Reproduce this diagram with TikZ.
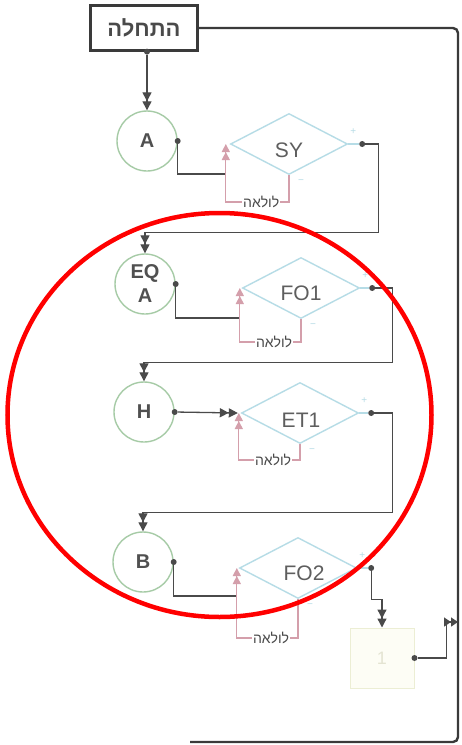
\documentclass[tikz,border=0pt]{standalone}
\usepackage{fontspec}
\setmainfont{Liberation Sans}
\newfontfamily\hebfont[Script=Hebrew]{Liberation Sans}
\TeXXeTstate=1
\usetikzlibrary{shapes.geometric,arrows.meta,calc}
\definecolor{ln}{HTML}{4A4A4A}
\definecolor{outerc}{HTML}{3A3A3A}
\definecolor{cgreen}{HTML}{A6CBA6}
\definecolor{cblue}{HTML}{B6DCE6}
\definecolor{cpink}{HTML}{D49FAB}
\definecolor{ctext}{HTML}{505050}
\definecolor{dtext}{HTML}{5E5E5E}
\definecolor{yel}{HTML}{ECEED4}
\definecolor{yelf}{HTML}{FDFDF5}
\definecolor{onec}{HTML}{E4E4D2}
\begin{document}
\begin{tikzpicture}[x=1pt,y=-1pt,
  conn/.style={draw=ln,line width=1.3pt},
  dbl/.style={-{Triangle[length=9pt,width=9pt]Triangle[length=9pt,width=9pt]}},
  pdbl/.style={-{Triangle[length=8pt,width=8pt]Triangle[length=8pt,width=8pt]}},
  circ/.style={circle,draw=cgreen,line width=1.4pt,minimum size=60pt,inner sep=0pt,
    font=\bfseries\fontsize{20}{24}\selectfont,text=ctext},
  dia/.style={diamond,draw=cblue,line width=1.4pt,minimum width=117pt,minimum height=61pt,inner sep=0pt},
  dtxt/.style={font=\fontsize{21}{21}\selectfont,text=dtext,inner sep=0pt},
  dot/.style={circle,fill=ln,inner sep=0pt,minimum size=6pt},
  pinkln/.style={draw=cpink,line width=1.1pt},
  loopl/.style={fill=white,inner sep=1pt,font=\hebfont\fontsize{14}{14}\selectfont,text=ln},
  pm/.style={text=cblue,font=\fontsize{10}{10}\selectfont,inner sep=0pt},
  outer/.style={draw=outerc,line width=2.4pt,rounded corners=5pt}
]
\useasboundingbox[fill=white] (0,0) rectangle (461,745);

% start box
\node[draw=outerc,line width=2.3pt,fill=white,minimum width=107pt,minimum height=45pt,inner sep=0pt,
  font=\hebfont\bfseries\fontsize{22}{22}\selectfont,text=ln] (start) at (144,28) {\beginR התחלה\endR};

% circles
\node[circ] (A) at (147,141) {A};
\node[circ,align=center] (EQA) at (145,284) {EQ\\A};
\node[circ] (H) at (144,412) {H};
\node[circ] (B) at (143,562) {B};

% diamonds
\node[dia] (SY) at (289,144) {};
\node[dia] (FO1) at (301,288) {};
\node[dia] (ET1) at (300,413) {};
\node[dia] (FO2) at (298,568) {};
\node[dtxt] (SYt) at ($(SY)+(0,6)$) {SY};
\node[dtxt] (FO1t) at ($(FO1)+(0,5)$) {FO1};
\node[dtxt] (ET1t) at ($(ET1)+(1,7)$) {ET1};
\node[dtxt] (FO2t) at ($(FO2)+(6,5)$) {FO2};

% plus / minus marks
\foreach \d in {SY,FO1,ET1,FO2}{
  \node[pm] (p\d) at ($(\d.east)+(5,-12)$) {+};
  \node[pm] (m\d) at ($(\d.south)+(12,6)$) {−};
}

% box 1
\node[draw=yel,line width=1pt,fill=yelf,minimum width=64pt,minimum height=60pt,inner sep=0pt,
  font=\fontsize{18}{18}\selectfont,text=onec] (box1) at (382,658) {1};

% dots
\node[dot] (dS) at (start.south -| A) {};
\node[dot] (dA) at (A.east) {};
\node[dot] (dEQA) at (EQA.east) {};
\node[dot] (dH) at (H.east) {};
\node[dot] (dB) at (B.east) {};
\node[dot] (dSY) at ($(SY.east)+(14,0)$) {};
\node[dot] (dFO1) at ($(FO1.east)+(12,0)$) {};
\node[dot] (dET1) at ($(ET1.east)+(12,0)$) {};
\node[dot] (dFO2) at ($(FO2.east)+(14,0)$) {};
\node[dot] (dbox) at (box1.east) {};

\foreach \d in {SY,FO1,ET1,FO2}{
  \draw[cblue,line width=1.2pt] (\d.east) -- (d\d);
}

% entry points of the diamonds
\coordinate (inSY) at ($(SY.west)+(-4,0)$);
\coordinate (inFO1) at ($(FO1.west)+(-2,0)$);
\coordinate (inET1) at ($(ET1.west)+(-2,0)$);
\coordinate (inFO2) at ($(FO2.west)+(-2,0)$);

% outer frame
\coordinate (tr) at (458,28);
\coordinate (br) at (458,742);
\coordinate (bl) at (190,742);
\draw[outer] (start.east) -- (tr) -- (br) -- (bl);

% start -> A
\draw[conn,dbl] (dS) -- (A.north);

% A -> SY
\draw[conn] (dA) |- ($(inSY)+(0,30)$);
\draw[pinkln,pdbl] (SY.south) |- node[loopl,pos=0.72] (lSY) {\beginR לולאה\endR} ($(inSY)+(0,58)$) -- (inSY);

% SY -> EQA
\draw[conn,dbl] (dSY) -- ++(16,0) |- ($(EQA.north)+(0,-21)$) -- (EQA.north);

% EQA -> FO1
\draw[conn] (dEQA) |- ($(inFO1)+(0,30)$);
\draw[pinkln,pdbl] (FO1.south) |- node[loopl,pos=0.72] (lFO1) {\beginR לולאה\endR} ($(inFO1)+(0,54)$) -- (inFO1);

% FO1 -> H
\draw[conn,dbl] (dFO1) -- ++(20,0) |- ($(H.north)+(0,-19)$) -- (H.north);

% H -> ET1
\draw[conn,dbl] (dH) -- ($(inET1)+(-1,0)$);
\draw[pinkln,pdbl] (ET1.south) |- node[loopl,pos=0.72] (lET1) {\beginR לולאה\endR} ($(inET1)+(0,47)$) -- (inET1);

% ET1 -> B
\draw[conn,dbl] (dET1) -- ++(21,0) |- ($(B.north)+(0,-19)$) -- (B.north);

% B -> FO2
\draw[conn] (dB) |- ($(inFO2)+(0,28)$);
\draw[pinkln,pdbl] (FO2.south) |- node[loopl,pos=0.72] (lFO2) {\beginR לולאה\endR} ($(inFO2)+(0,70)$) -- (inFO2);

% FO2 -> box1
\draw[conn,dbl] (dFO2) |- ($(box1.north)+(0,-28)$) -- (box1.north);

% box1 -> outer frame
\coordinate (jR) at (458,622);
\draw[conn,-{Triangle[length=7pt,width=9pt]Triangle[length=7pt,width=9pt]}] (dbox) -- ++(32,0) |- (jR);

% red highlight
\draw[red,line width=4.5pt] (219.5,415) ellipse [x radius=212, y radius=202];
\end{tikzpicture}
\end{document}
